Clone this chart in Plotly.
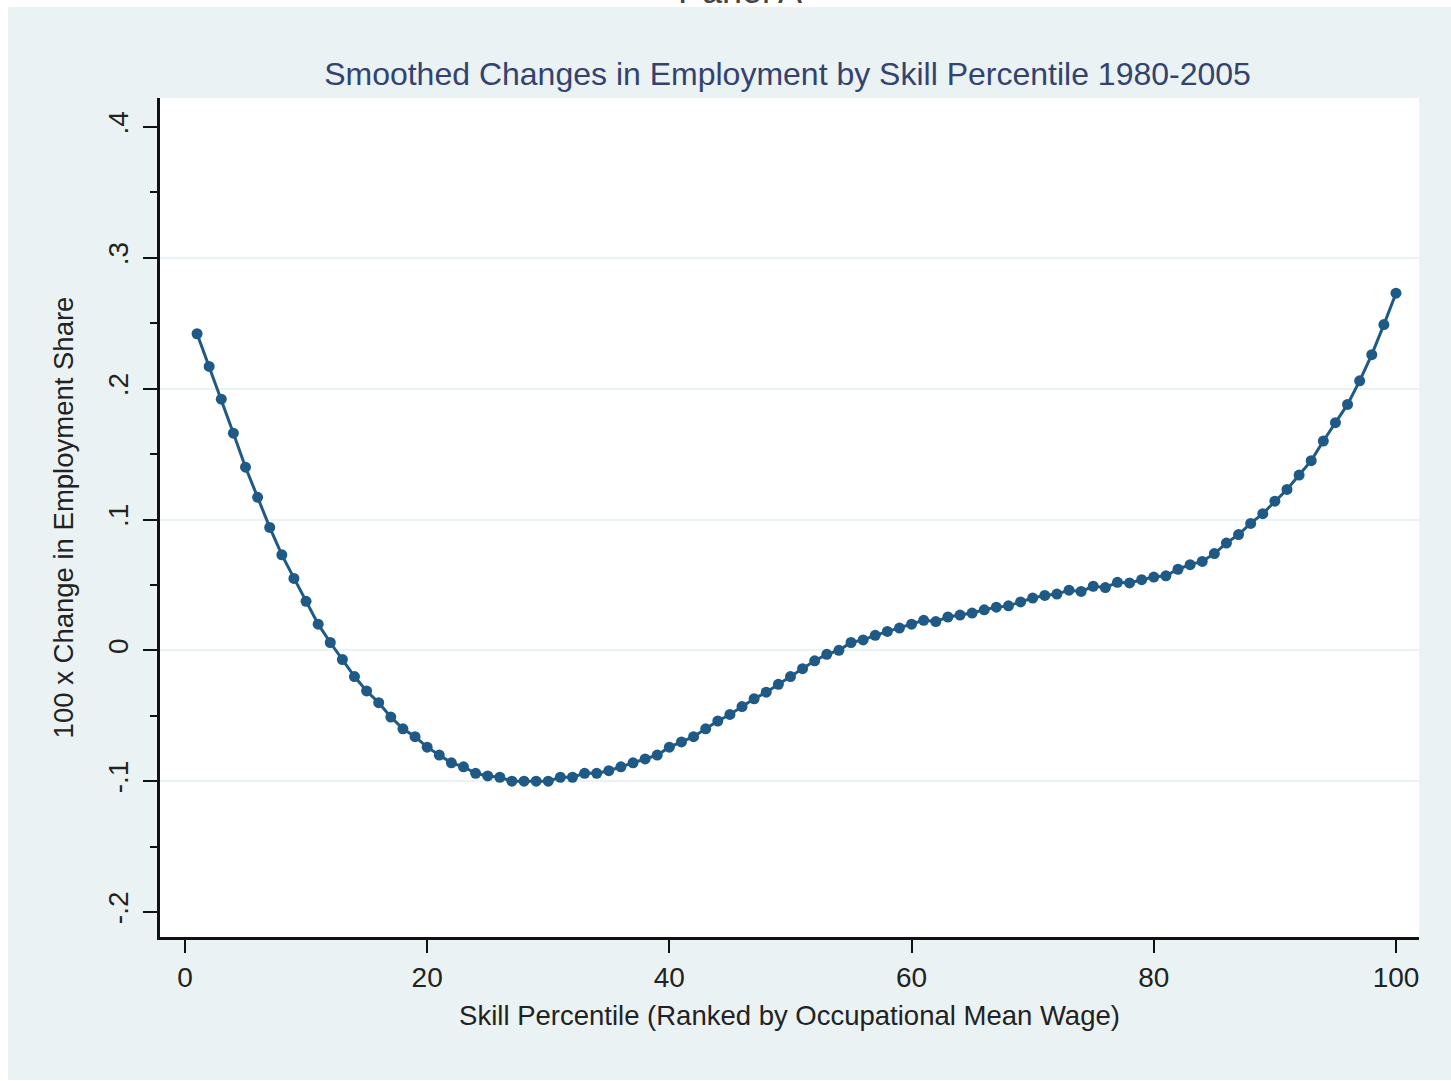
import plotly.graph_objects as go

percentile = list(range(1, 101))
emp_change = [
    0.242, 0.217, 0.192, 0.166, 0.140, 0.117, 0.094, 0.073, 0.055, 0.0375,
    0.020, 0.006, -0.007, -0.020, -0.031, -0.040, -0.051, -0.060, -0.066, -0.074,
    -0.080, -0.086, -0.089, -0.094, -0.096, -0.097, -0.100, -0.100, -0.100, -0.100,
    -0.097, -0.097, -0.094, -0.094, -0.092, -0.089, -0.086, -0.083, -0.080, -0.074,
    -0.070, -0.066, -0.060, -0.054, -0.049, -0.043, -0.037, -0.032, -0.026, -0.020,
    -0.014, -0.008, -0.003, 0.000, 0.006, 0.008, 0.0115, 0.0145, 0.017, 0.020,
    0.023, 0.022, 0.0255, 0.027, 0.0285, 0.031, 0.033, 0.034, 0.037, 0.040,
    0.042, 0.043, 0.046, 0.045, 0.049, 0.048, 0.052, 0.0515, 0.054, 0.056,
    0.057, 0.062, 0.0655, 0.068, 0.074, 0.082, 0.0885, 0.097, 0.1045, 0.114,
    0.123, 0.134, 0.145, 0.160, 0.174, 0.188, 0.206, 0.226, 0.249, 0.273,
]

x_ticks = [0, 20, 40, 60, 80, 100]
x_tick_labels = ["0", "20", "40", "60", "80", "100"]
y_ticks = [-0.2, -0.1, 0, 0.1, 0.2, 0.3, 0.4]
y_tick_labels = ["-.2", "-.1", "0", ".1", ".2", ".3", ".4"]
grid_vals = [-0.1, 0, 0.1, 0.2, 0.3]

FONT = "Liberation Sans, Arial, sans-serif"
BG = "#eaf2f3"
LINE = "#1f5a87"

W, H = 1451, 1081
L, R, T, B = 160, 32, 98, 144
pw, ph = W - L - R, H - T - B

def px_x(p):
    return (p - L) / pw

def px_y(p):
    return 1 - (p - T) / ph

fig = go.Figure()
fig.add_trace(go.Scatter(
    x=percentile, y=emp_change, mode="lines+markers",
    line=dict(color=LINE, width=3),
    marker=dict(color=LINE, size=11, symbol="circle"),
    showlegend=False, cliponaxis=False,
))

yr = [-0.2191, 0.4222]
fig.update_layout(
    width=W, height=H,
    margin=dict(l=L, r=R, t=T, b=B, pad=0),
    paper_bgcolor=BG, plot_bgcolor="white",
    font=dict(family=FONT, color="#222222"),
    title=dict(
        text="Smoothed Changes in Employment by Skill Percentile 1980-2005",
        x=px_x((328 + 1247) / 2), xref="paper", xanchor="center",
        y=1 - 74 / H, yref="container", yanchor="middle",
        font=dict(family=FONT, size=32, color="#34426f"),
    ),
    xaxis=dict(
        range=[-2.06, 101.9], tickvals=x_ticks, ticktext=x_tick_labels,
        showgrid=False, zeroline=False,
        showline=True, linecolor="#111111", linewidth=3,
        ticks="outside", ticklen=13, tickwidth=2, tickcolor="#111111",
        tickfont=dict(family=FONT, size=28, color="#222222"),
        title=dict(text="Skill Percentile (Ranked by Occupational Mean Wage)",
                   font=dict(family=FONT, size=27.5, color="#222222"), standoff=15),
    ),
    yaxis=dict(
        range=yr, tickvals=y_ticks, ticktext=y_tick_labels, tickangle=-90,
        showgrid=False, zeroline=False,
        showline=True, linecolor="#111111", linewidth=3,
        ticks="outside", ticklen=14, tickwidth=2, tickcolor="#111111",
        ticklabelstandoff=4,
        tickfont=dict(family=FONT, size=28, color="#222222"),
        minor=dict(dtick=0.05, tick0=0, ticks="outside", ticklen=7, tickwidth=2,
                   tickcolor="#111111", showgrid=False),
        title=dict(text="100 x Change in Employment Share",
                   font=dict(family=FONT, size=27.5, color="#222222"), standoff=22),
    ),
    yaxis2=dict(
        range=yr, overlaying="y", tickvals=grid_vals, showticklabels=False,
        showgrid=True, gridcolor=BG, gridwidth=2, zeroline=False,
        showline=False, ticks="",
    ),
)

# invisible trace to activate yaxis2 grid
fig.add_trace(go.Scatter(x=[percentile[0]], y=[emp_change[0]], yaxis="y2",
                         mode="markers", marker=dict(opacity=0), showlegend=False,
                         hoverinfo="skip"))

# white strips at the edges of the scanned figure
fig.add_shape(type="rect", xref="paper", yref="paper", layer="above",
              x0=px_x(-5), x1=px_x(8), y0=px_y(H + 5), y1=px_y(-5),
              line=dict(width=0), fillcolor="white")
fig.add_shape(type="rect", xref="paper", yref="paper", layer="above",
              x0=px_x(-5), x1=px_x(W + 5), y0=px_y(7), y1=px_y(-5),
              line=dict(width=0), fillcolor="white")
fig.add_shape(type="rect", xref="paper", yref="paper", layer="above",
              x0=px_x(-5), x1=px_x(W + 5), y0=px_y(H + 5), y1=px_y(1080),
              line=dict(width=0), fillcolor="white")

# partially visible panel heading, cut off at the top as in the source scan
fig.add_annotation(text="Panel A", xref="paper", yref="paper",
                   x=px_x(740), y=px_y(13), xanchor="center", yanchor="bottom",
                   showarrow=False, font=dict(family=FONT, size=36, color="#444444"))

fig.write_html("out.html", config={"displayModeBar": False},
               post_script="document.body.style.margin='0';")
